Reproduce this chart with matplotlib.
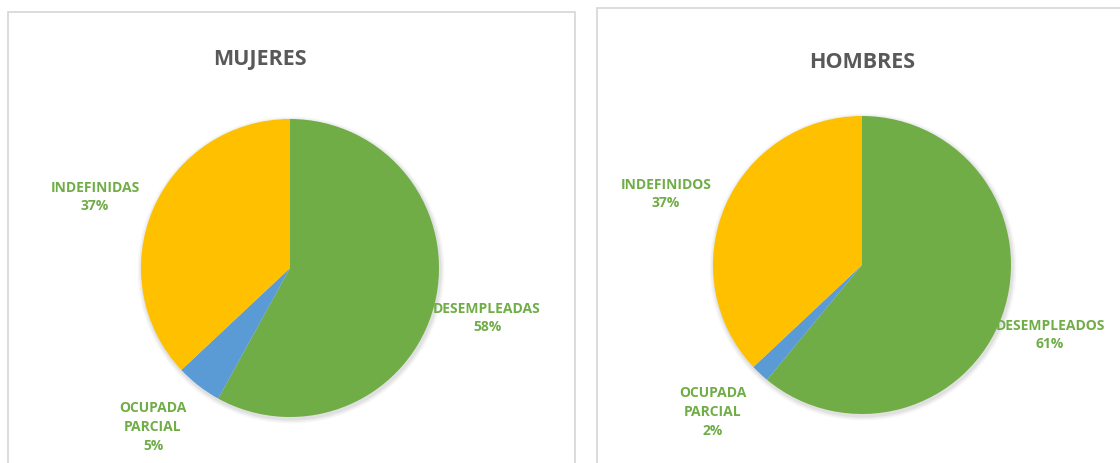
import matplotlib
matplotlib.use("Agg")
import matplotlib.pyplot as plt
from matplotlib.patches import Rectangle, Circle

W, H = 1120, 464

# ---- data ----
titles = ["MUJERES", "HOMBRES"]
cats_mujeres = ["DESEMPLEADAS", "OCUPADA\nPARCIAL", "INDEFINIDAS"]
vals_mujeres = [58, 5, 37]
cats_hombres = ["DESEMPLEADOS", "OCUPADA\nPARCIAL", "INDEFINIDOS"]
vals_hombres = [61, 2, 37]
colors = ["#70AD47", "#5B9BD5", "#FFC000"]

# ---- layout (pixel coordinates, y down) ----
panels = [(8, 13, 567, 470), (597, 9, 540, 475)]
title_pos = [(260, 60), (862, 63)]
centers = [(290, 269), (862, 266)]
radii = [149, 149]
label_pos = [
    [(487, 318), (153, 427), (95, 197)],
    [(1050, 335), (713, 412), (666, 194)],
]

FONT = ["Open Sans", "DejaVu Sans"]

fig = plt.figure(figsize=(W / 100, H / 100), dpi=100)
ax = fig.add_axes([0, 0, 1, 1])
ax.set_xlim(0, W)
ax.set_ylim(0, H)
ax.set_aspect("equal")
ax.axis("off")

def Y(y):
    return H - y

for (x0, y0, w, h) in panels:
    ax.add_patch(Rectangle((x0, Y(y0 + h)), w, h, fill=False,
                           edgecolor="#D9D9D9", linewidth=1.3, zorder=1))

datasets = [(cats_mujeres, vals_mujeres), (cats_hombres, vals_hombres)]
for i, (cats, vals) in enumerate(datasets):
    cx, cy = centers[i]
    r = radii[i]
    # soft shadow
    for k, a in enumerate([0.05, 0.04, 0.03]):
        ax.add_patch(Circle((cx + 1, Y(cy) - 2), r + 1.5 + k * 1.5,
                            facecolor="#000000", alpha=a, edgecolor="none",
                            zorder=2))
    wedges, _ = ax.pie(vals, colors=colors, startangle=90, counterclock=False,
                       center=(cx, Y(cy)), radius=r, frame=True,
                       wedgeprops=dict(linewidth=0, edgecolor="white"))
    for wd in wedges:
        wd.set_zorder(3)
    for j, (c, v) in enumerate(zip(cats, vals)):
        lx, ly = label_pos[i][j]
        ax.text(lx, Y(ly), f"{c}\n{v}%", ha="center", va="center",
                color="#70AD47", fontsize=10, fontweight="bold",
                family=FONT, linespacing=1.45, zorder=5)
    tx, ty = title_pos[i]
    ax.text(tx, Y(ty), titles[i], ha="center", va="center", color="#595959",
            fontsize=15.5, fontweight="bold", family=FONT, zorder=5)

ax.set_xlim(0, W)
ax.set_ylim(0, H)
ax.axis("off")
fig.savefig("out.png", dpi=100, facecolor="white")
